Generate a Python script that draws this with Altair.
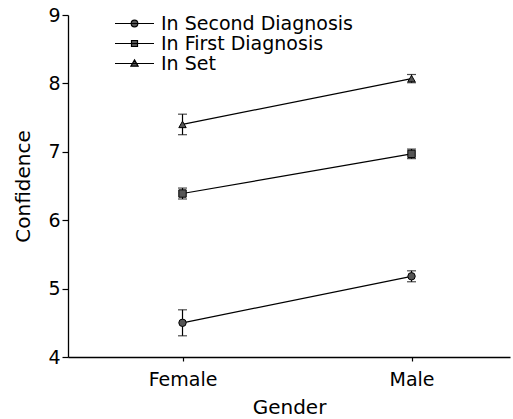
import altair as alt
import pandas as pd

genders = ["Female", "Male"]
series = ["In Second Diagnosis", "In First Diagnosis", "In Set"]
marker_shapes = ["circle", "square", "triangle-up"]

second_means = [4.50, 5.18]
second_errs = [0.19, 0.08]
first_means = [6.39, 6.97]
first_errs = [0.08, 0.07]
set_means = [7.40, 8.07]
set_errs = [0.15, 0.06]

y_ticks = [4, 5, 6, 7, 8, 9]

rows = []
for name, m, e in [
    (series[0], second_means, second_errs),
    (series[1], first_means, first_errs),
    (series[2], set_means, set_errs),
]:
    for i, g in enumerate(genders):
        rows.append({"series": name, "gender": g, "gx": i, "mean": m[i],
                     "lo": m[i] - e[i], "hi": m[i] + e[i]})
df = pd.DataFrame(rows)

FONT = "DejaVu Sans"

x_enc = alt.X("gx:Q", scale=alt.Scale(domain=[-0.5, 1.43], nice=False, zero=False),
              axis=alt.Axis(values=[0, 1], labelExpr="datum.value == 0 ? 'Female' : 'Male'",
                            title="Gender", grid=False, tickSize=4, labelPadding=9,
                            titlePadding=8))
y_enc = alt.Y("mean:Q", scale=alt.Scale(domain=[4, 9], nice=False, zero=False),
              axis=alt.Axis(values=y_ticks, title="Confidence", grid=False, tickSize=6,
                            labelPadding=2, titlePadding=14, format="d"))

base = alt.Chart(df)

lines = base.mark_line(color="black", strokeWidth=1.2).encode(x=x_enc, y=y_enc, detail="series:N")
rules = base.mark_rule(color="black", strokeWidth=1.2).encode(x="gx:Q", y="lo:Q", y2="hi:Q")
cap_lo = base.mark_tick(color="black", orient="horizontal", size=9, thickness=1.2).encode(x="gx:Q", y="lo:Q")
cap_hi = base.mark_tick(color="black", orient="horizontal", size=9, thickness=1.2).encode(x="gx:Q", y="hi:Q")

point_layers = []
for name, shp in zip(series, marker_shapes):
    point_layers.append(
        base.transform_filter(alt.datum.series == name).mark_point(
            shape=shp, filled=True, fill="#555555", stroke="black", strokeWidth=1,
            opacity=1, size=55).encode(x="gx:Q", y="mean:Q")
    )

legend_paths = [
    "M-3.25,0H3.25M0.55,0A0.55,0.55,0,1,1,-0.55,0A0.55,0.55,0,1,1,0.55,0Z",
    "M-3.25,0H3.25M-0.5,-0.5H0.5V0.5H-0.5Z",
    "M-3.25,0H3.25M0,-0.6L0.6,0.45L-0.6,0.45Z",
]
leg = alt.Legend(title=None, orient="none", legendX=57, legendY=-1,
                 symbolSize=144, labelFontSize=19, labelFont=FONT,
                 labelColor="black", labelOffset=17, symbolOffset=0,
                 labelLimit=400, rowPadding=0, padding=0, symbolStrokeWidth=1.2,
                 symbolFillColor="#555555", symbolStrokeColor="black")
legend_layer = base.transform_filter("false").mark_point(
    filled=False, color="black", fill="#555555", stroke="black", strokeWidth=1.2, opacity=1).encode(
    x="gx:Q", y="mean:Q",
    shape=alt.Shape("series:N", scale=alt.Scale(domain=series, range=legend_paths), legend=leg),
    stroke=alt.Stroke("series:N", scale=alt.Scale(domain=series, range=["black", "black", "black"]),
                      legend=leg),
)

chart = alt.layer(lines, rules, cap_lo, cap_hi, *point_layers, legend_layer).properties(
    width=442, height=342,
    background="white",
    autosize=alt.AutoSizeParams(type="none"),
    padding={"left": 68, "top": 15, "right": 3, "bottom": 62},
).configure_view(stroke=None).configure_axis(
    domainColor="black", domainWidth=1.3, tickColor="black", tickWidth=1.2,
    labelColor="black", titleColor="black", labelFont=FONT, titleFont=FONT,
    labelFontSize=19, titleFontSize=20, titleFontWeight="normal"
)

chart.save("out.html", embed_options={"renderer": "svg", "actions": False})
